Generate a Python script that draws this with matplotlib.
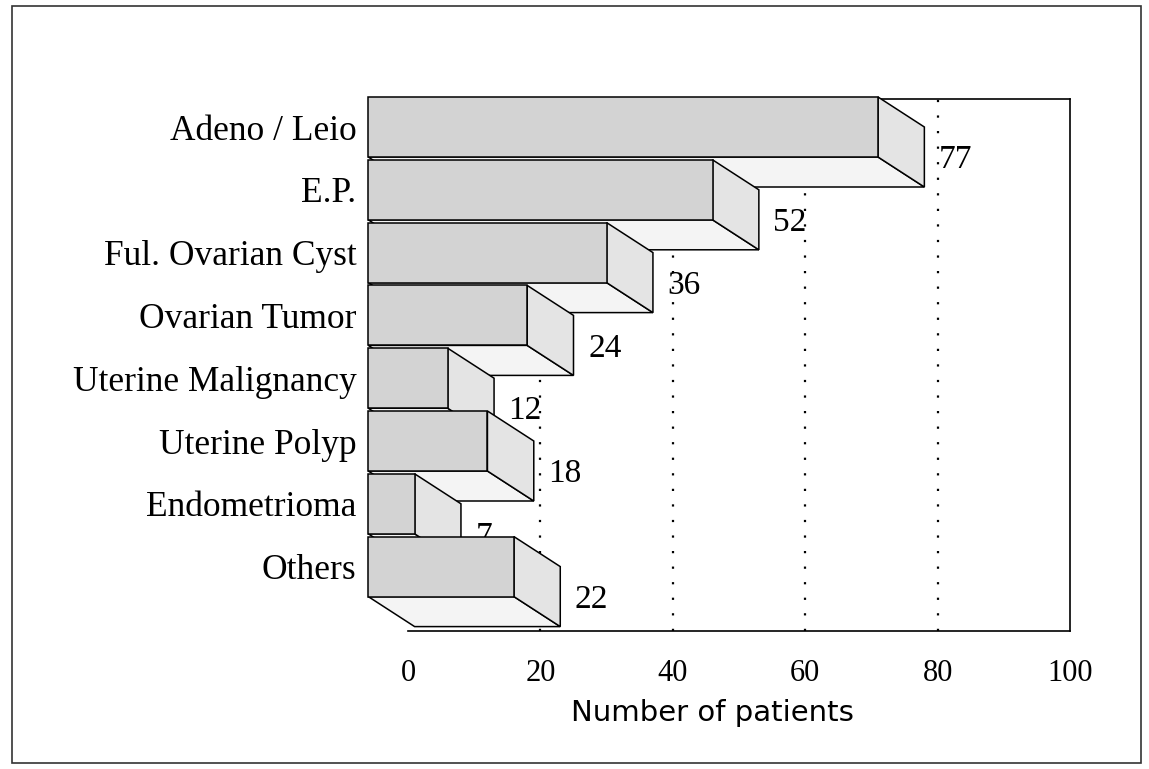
import matplotlib
matplotlib.use("Agg")
import matplotlib.pyplot as plt
from matplotlib.patches import Polygon, Rectangle

# ---- data ----
categories = ["Adeno / Leio", "E.P.", "Ful. Ovarian Cyst", "Ovarian Tumor",
              "Uterine Malignancy", "Uterine Polyp", "Endometrioma", "Others"]
patients = [77, 52, 36, 24, 12, 18, 7, 22]
x_ticks = [0, 20, 40, 60, 80, 100]
grid_values = [20, 40, 60, 80]

# ---- layout constants (y in pixel-like units from axes top) ----
W, H = 1149, 769
ax_left, ax_right, ax_top, ax_bottom = 408, 1070, 99, 631
row_pitch = 62.8
face_h = 60.0
depth_dx = 7.0     # data units (x)
back_shift = 1.0   # data units: back right edge = value + back_shift
depth_dy = 30.0    # y units

FRONT = "#d3d3d3"
SIDE = "#e4e4e4"
BOTTOM = "#f4f4f4"
SERIF = ["Liberation Serif", "DejaVu Serif"]

fig = plt.figure(figsize=(W / 100, H / 100), dpi=100)
ax = fig.add_axes([ax_left / W, 1 - ax_bottom / H,
                   (ax_right - ax_left) / W, (ax_bottom - ax_top) / H])
ax.set_xlim(0, 100)
ax.set_ylim(ax_bottom - ax_top, 0)

# gridlines
for g in grid_values:
    ax.axvline(g, color="black", linestyle=(0, (1, 6)), linewidth=1.6, zorder=1)

tops = []
for i, (cat, v) in enumerate(zip(categories, patients)):
    top = i * row_pitch - 2
    tops.append(top)
    z = 3 + i
    b = v + back_shift          # back right edge
    f = b - depth_dx            # front right edge
    fl = back_shift - depth_dx  # front left edge
    bl = back_shift             # back left edge
    dy = depth_dy
    bottom = [(fl, top + face_h), (f, top + face_h),
              (b, top + face_h + dy), (bl, top + face_h + dy)]
    side = [(f, top), (b, top + dy), (b, top + face_h + dy), (f, top + face_h)]
    front = [(fl, top), (f, top), (f, top + face_h), (fl, top + face_h)]
    for pts, col in [(bottom, BOTTOM), (side, SIDE), (front, FRONT)]:
        ax.add_patch(Polygon(pts, closed=True, facecolor=col, edgecolor="black",
                             linewidth=1.1, zorder=z, clip_on=False))
    ax.text(b + 2.2, top + face_h + 3, str(v), ha="left", va="center",
            fontsize=24, family=SERIF, zorder=z, clip_on=False)

# category labels as y tick labels
ax.set_yticks([t + face_h / 2 for t in tops])
ax.set_yticklabels(categories, family=SERIF, fontsize=25.5)
ax.tick_params(axis="y", length=0, pad=37)

ax.set_xticks(x_ticks)
ax.set_xticklabels([str(t) for t in x_ticks], family=SERIF, fontsize=22)
ax.tick_params(axis="x", length=0, pad=20)

ax.set_xlabel("Number of patients", family=["DejaVu Sans"], fontsize=21,
              labelpad=8, x=0.46)

ax.spines["left"].set_visible(False)
for s in ["top", "right", "bottom"]:
    ax.spines[s].set_linewidth(1.2)
ax.set_facecolor("none")

# page frame from scan
fig.add_artist(Rectangle((12 / W, 6 / H), (1141 - 12) / W, (763 - 6) / H,
                         transform=fig.transFigure, fill=False,
                         edgecolor="#333333", linewidth=1.2))

fig.savefig("out.png", dpi=100)
